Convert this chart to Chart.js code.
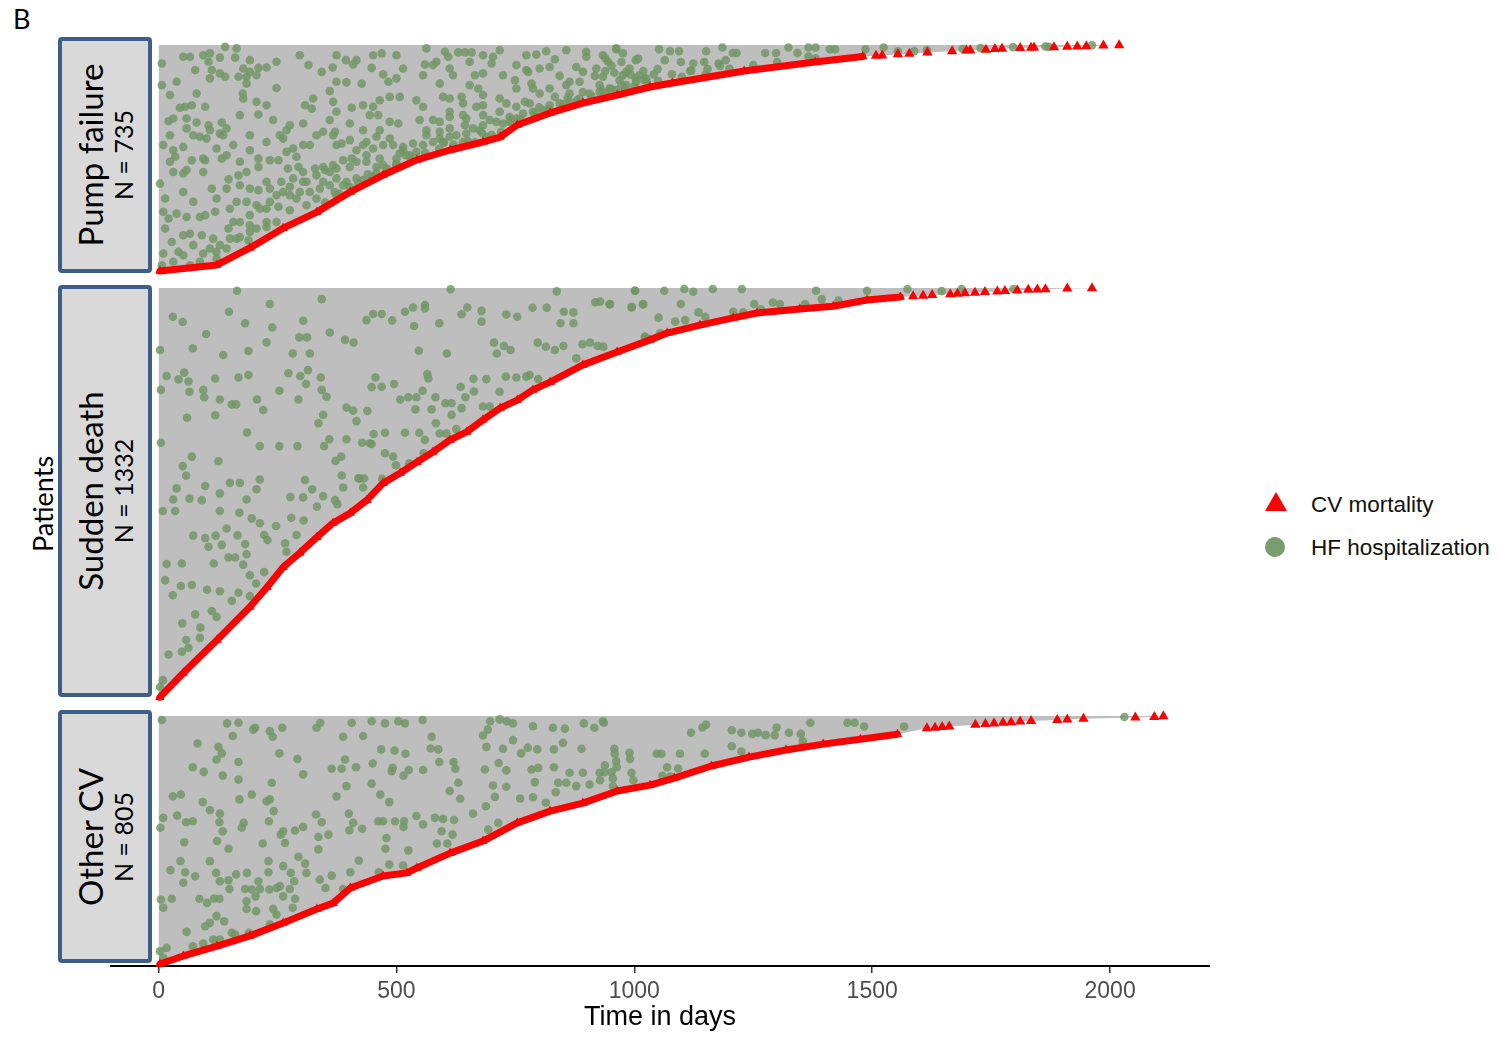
<!DOCTYPE html>
<html>
<head>
<meta charset="utf-8">
<script src="https://cdn.jsdelivr.net/npm/chart.js@4.4.1/dist/chart.umd.min.js"></script>
<style>
  body { margin: 0; background: #fff; width: 1499px; height: 1038px; position: relative; overflow: hidden; font-family: Lato, "Open Sans", sans-serif; }
  .panel { position: absolute; left: 110px; width: 1100px; }
  .strip { position: absolute; left: 58px; width: 94px; box-sizing: border-box; border: 4px solid #3d5d8b; border-radius: 4px; background: #d9d9d9; }
  .strip .lab { position: absolute; left: 50%; top: 50%; transform: translate(-50%, -50%) rotate(-90deg); text-align: center; white-space: nowrap; color: #000; }
  .strip .l1 { font-size: 33px; line-height: 35px; }
  .strip .l2 { font-size: 25px; line-height: 30px; }
  #tag { position: absolute; left: 13px; top: 2px; font-size: 27px; }
  #ylab { position: absolute; left: 42px; top: 504px; transform: translate(-50%, -50%) rotate(-90deg); font-size: 27px; white-space: nowrap; }
  .leg { position: absolute; left: 1311px; font-family: "Liberation Sans", Arial, sans-serif; font-size: 22.5px; color: #111; transform: translateY(-50%); white-space: nowrap; }
  #legTri { position: absolute; left: 1265px; top: 492px; width: 0; height: 0; border-left: 11px solid transparent; border-right: 11px solid transparent; border-bottom: 19px solid #ff0000; }
  #legDot { position: absolute; left: 1265px; top: 537px; width: 20px; height: 20px; border-radius: 50%; background: #7a9d70; }
</style>
</head>
<body>
<div id="tag">B</div>
<div id="ylab">Patients</div>
<div id="legTri"></div>
<div class="leg" id="leg1" style="top:505px"></div>
<div id="legDot"></div>
<div class="leg" id="leg2" style="top:548px"></div>

<script>
// ---- data: [day, patient index] ----
const xTicks = [0, 500, 1000, 1500, 2000];
const stripNames = ["Pump failure", "Sudden death", "Other CV"];
const panelN = [735, 1332, 805];
const legendLabels = ["CV mortality", "HF hospitalization"];

// CV death curve (dense part) and sparse tail triangles
const pumpDeaths = [[3,3],[123,23],[192,78],[262,142],[333,194],[403,259],[472,314],[543,363],[613,395],[682,421],[718,437],[754,476],[823,515],[892,547],[964,573],[1033,599],[1080,612],[1231,651],[1380,680],[1480,698]];
const pumpTail = [[1508,700],[1521,701],[1554,705],[1578,707],[1616,711],[1668,715],[1698,717],[1706,718],[1739,720],[1758,722],[1773,723],[1811,725],[1834,726],[1840,727],[1882,728],[1910,729],[1931,730],[1950,731],[1986,733],[2019,734]];

const suddenDeaths = [[3,7],[52,85],[123,192],[192,299],[228,363],[262,428],[297,474],[333,525],[367,571],[403,603],[438,645],[472,700],[508,733],[543,768],[577,801],[613,840],[648,866],[682,905],[718,943],[754,969],[787,1002],[823,1027],[892,1083],[964,1125],[1033,1164],[1069,1186],[1138,1212],[1208,1235],[1258,1251],[1348,1264],[1418,1273],[1489,1293],[1559,1303]];
const suddenTail = [[1586,1305],[1607,1307],[1626,1309],[1664,1312],[1679,1313],[1695,1315],[1716,1317],[1737,1319],[1763,1321],[1779,1322],[1805,1324],[1828,1326],[1847,1327],[1864,1328],[1910,1330],[1962,1331]];

const otherDeaths = [[3,2],[52,28],[123,60],[192,93],[262,135],[333,180],[367,199],[403,248],[472,287],[522,297],[543,313],[613,361],[682,400],[754,459],[823,497],[892,523],[964,562],[1033,581],[1084,604],[1162,643],[1241,672],[1319,695],[1397,714],[1475,730],[1553,746]];
const otherTail = [[1615,765],[1632,767],[1647,769],[1662,771],[1717,777],[1738,779],[1756,781],[1775,783],[1792,785],[1811,787],[1834,789],[1889,792],[1910,794],[1944,796],[2053,800],[2093,802],[2112,804]];

// HF hospitalizations
const pumpHosp = [[140,729],[7,675],[52,697],[66,697],[94,702],[108,708],[105,681],[129,694],[161,694],[77,654],[112,654],[178,659],[192,648],[210,661],[227,662],[315,670],[343,648],[366,662],[394,686],[409,672],[416,686],[451,702],[469,708],[448,661],[472,640],[563,724],[602,713],[609,697],[630,711],[644,711],[658,711],[703,697],[717,718],[700,675],[773,702],[794,704],[815,715],[833,689],[857,718],[899,713],[899,697],[934,702],[945,681],[962,724],[976,708],[1008,691],[990,659],[976,637],[952,668],[773,654],[801,659],[560,672],[577,670],[556,637],[920,659],
  [7,605],[108,627],[129,643],[140,632],[168,632],[185,632],[206,637],[248,596],[185,610],[177,578],[80,578],[178,562],[206,551],[227,540],[56,535],[70,540],[45,532],[98,535],[171,508],[210,510],[241,492],[308,540],[325,562],[322,529],[360,586],[374,616],[395,614],[427,610],[367,551],[374,519],[406,532],[430,540],[451,535],[465,556],[486,567],[507,567],[444,508],[462,508],[486,486],[504,481],[465,459],[483,616],[500,627],[591,610],[619,637],[654,605],[672,594],[665,637],[682,643],[724,637],[749,621],[777,648],[784,610],[822,594],[843,635],[864,616],[885,616],[917,635],[934,632],[969,621],[983,648],[1011,637],[542,556],[556,535],[598,567],[612,562],[637,567],[640,546],[668,535],[682,540],[731,546],[752,535],[770,551],[780,546],[801,578],[833,567],[864,578],[892,583],[927,605],[948,594],[717,519],[682,508],[647,497],[612,502],[577,492],[549,492],[563,459],[591,454],[612,465],[644,475],[675,459],[710,486],[738,502],[21,488],[80,484],[105,475],[133,484],[143,465],[108,459],[129,448],[87,438],[101,432],[269,459],[262,432],[276,475],[304,481],[360,492],[371,454],[402,481],[430,459],[385,416],[402,427],[437,421],[458,438],[486,432],[514,405],[535,416],[563,443],[591,432],[640,421],[665,420],[689,438],[591,486],
  [31,394],[35,373],[52,405],[70,362],[98,362],[133,367],[143,378],[171,357],[192,394],[210,367],[234,362],[252,362],[269,389],[290,373],[294,340],[272,335],[304,324],[329,335],[350,330],[367,346],[388,362],[406,367],[437,378],[465,367],[500,367],[507,384],[3,286],[14,238],[31,324],[52,319],[59,330],[94,324],[112,270],[147,300],[168,313],[185,324],[210,340],[227,292],[192,270],[210,265],[234,270],[258,292],[276,276],[304,292],[290,238],[318,259],[346,292],[374,303],[395,292],[416,303],[311,216],[332,238],[339,270],[360,281],[388,281],[10,195],[21,173],[38,189],[59,178],[87,178],[98,184],[119,195],[150,205],[164,227],[185,227],[206,216],[227,205],[252,211],[276,200],[14,141],[28,97],[52,119],[66,124],[91,119],[115,108],[147,141],[171,162],[192,151],[206,141],[227,146],[248,162],[10,60],[42,65],[73,87],[108,76],[129,87],[150,108],[171,113],[189,103],[7,22],[31,33],[52,54],[94,60],[122,65],
  [350,225],[380,253],[420,287],[450,308],[480,335],[500,348],[530,369],[560,386],[590,399],[620,413],[650,424],[700,444],[720,454],[760,495],[790,513],[820,528],[850,543],[880,557],[910,569],[940,579],[980,594],[1000,601],[1050,619],[1100,632],[1150,642],[1200,658],[1250,670],[1300,680],[370,259],[440,316],[520,378],[600,419],[680,450],[740,491],[800,533],[860,563],[930,591],[1020,623],[1120,652],[1180,667],
  [283,303],[297,259],[311,292],[332,313],[346,340],[360,324],[374,335],[402,340],[416,357],[437,357],[458,340],[472,346],[416,394],[430,411],[451,400],[472,411],[493,411],[514,394],[528,378],[542,389],[556,411],[577,421],[598,421],[612,438],[626,443],[647,448],[661,465],[682,475],[696,492],[724,481],[738,486],[752,497],[766,513],[787,519],[808,524],[822,540],[843,546],[864,551],[885,562],[906,578],[927,583],[962,589],[983,605],[1004,616],[1025,627],[213,205],[234,227],[248,249],[262,259],[276,249],[227,162],[192,130],[164,108],[143,76],[122,43],[87,33],[66,22],[192,184],[157,162],[318,411],[332,443],[346,454],[367,443],[374,411],[283,400],[304,411],[255,443],[227,421],[192,443],[157,411],[136,443],[122,400],[94,367],[73,443],[59,497],[24,443],[10,411],[24,357],[52,259],[73,227],[122,238],[143,270],[171,281],[374,249],[402,275],[430,298],[458,320],[500,350],[612,519],[640,508],[682,573],[717,562],[752,594],[787,594],[857,605],[892,648],[878,664],[822,664],[752,670],[682,702],[654,681],[612,659],[584,681],[514,659],[500,702],[374,702],[297,702],[248,681],[192,686],[164,724],[38,616],[24,573],[31,497],[59,465],
  [962,721],[939,692],[973,680],[1003,686],[1052,721],[1075,715],[1094,715],[1064,686],[1098,680],[1124,675],[1151,715],[1147,680],[1185,727],[1207,709],[1215,709],[1177,675],[1192,686],[939,651],[958,645],[992,640],[1019,651],[1049,657],[1079,640],[1117,651],[1154,657],[951,593],[973,605],[1003,628],[1026,616],[1041,640],[1275,709],[1298,709],[1324,727],[1343,709],[1366,727],[1381,727],[1411,721],[1422,721],[1366,698],[1381,692],[1486,721],[1524,727],[1554,715],[1588,715],[1615,719],[1690,722],[1728,725],[1796,728],[1864,730],[1962,734],[1871,729]];

const suddenHosp = [[165,1323],[343,1296],[234,1280],[148,1255],[30,1239],[51,1222],[304,1226],[182,1218],[239,1204],[100,1183],[3,1131],[72,1137],[227,1156],[296,1172],[312,1172],[360,1188],[392,1164],[410,1155],[189,1128],[136,1115],[282,1120],[318,1120],[54,1058],[17,1047],[42,1036],[63,1029],[119,1039],[168,1042],[189,1050],[273,1056],[298,1047],[314,1066],[341,1042],[5,1002],[65,996],[94,1002],[96,978],[129,971],[154,955],[163,955],[207,971],[220,937],[254,999],[294,971],[310,1021],[343,1002],[353,980],[60,912],[119,920],[186,864],[5,831],[213,820],[254,820],[292,820],[336,894],[346,921],[359,842],[348,820],[395,945],[409,935],[416,901],[439,934],[395,842],[428,831],[448,827],[372,772],[384,786],[70,786],[51,755],[58,724],[126,771],[38,683],[98,691],[150,701],[171,701],[213,712],[206,680],[308,710],[323,680],[385,725],[423,715],[432,715],[388,686],[430,686],[31,647],[65,650],[91,645],[129,667],[185,647],[277,655],[304,654],[346,658],[371,645],[376,632],[333,624],[9,610],[35,610],[129,610],[170,604],[196,586],[213,570],[247,561],[279,588],[305,579],[73,530],[98,522],[120,530],[143,553],[166,531],[182,503],[133,500],[105,494],[147,459],[161,459],[185,470],[178,436],[222,532],[229,516],[266,505],[269,478],[290,532],[17,438],[49,440],[116,440],[14,386],[47,367],[70,370],[102,355],[129,350],[168,345],[192,402],[205,375],[222,412],[30,337],[154,319],[192,334],[77,275],[112,286],[122,267],[50,246],[88,232],[87,199],[58,192],[21,145],[49,154],[63,167],[9,62],[3,40],
  [437,1228],[451,1248],[469,1248],[491,1227],[518,1255],[535,1269],[560,1277],[560,1266],[537,1209],[590,1218],[614,1328],[637,1247],[649,1269],[679,1258],[679,1223],[731,1246],[754,1239],[786,1268],[816,1268],[837,1321],[852,1255],[872,1253],[845,1218],[872,1218],[918,1286],[948,1279],[1001,1323],[994,1269],[1018,1279],[1022,1174],[705,1155],[726,1144],[740,1131],[711,1120],[797,1155],[814,1142],[833,1131],[851,1144],[891,1150],[907,1155],[923,1144],[547,1129],[606,1120],[456,1042],[448,1011],[469,1012],[495,1021],[508,971],[525,978],[542,978],[555,999],[565,1053],[567,1039],[582,978],[583,894],[603,959],[616,959],[637,943],[635,1012],[662,1038],[689,1037],[663,997],[645,978],[682,948],[696,948],[717,996],[730,1045],[752,1042],[773,1045],[798,1037],[780,1050],[878,1104],[540,939],[574,939],[616,921],[591,861],[605,861],[626,875],[518,863],[548,863],[560,840],[476,863],[493,786],[476,797],[499,758],[527,764],[557,797],[470,714],[452,859],[444,829],[420,716],
  [1002,1323],[1063,1323],[1105,1329],[1124,1320],[1165,1329],[1226,1329],[949,1280],[995,1271],[1019,1280],[1098,1280],[1051,1236],[1086,1223],[1107,1228],[1135,1253],[1149,1239],[1208,1255],[1229,1253],[1252,1280],[1266,1263],[1291,1285],[1306,1280],[1382,1323],[1359,1280],[1394,1296],[1429,1291],[1489,1323],[1574,1329],[1646,1322],[1688,1329],[1797,1329],[1054,1185],[1023,1174],[935,1142],[928,1288]];

const otherHosp = [[7,792],[144,781],[168,783],[199,761],[203,767],[234,756],[260,767],[240,738],[156,740],[82,716],[126,705],[133,684],[122,664],[168,656],[254,684],[72,639],[95,624],[135,612],[168,599],[238,589],[304,616],[292,666],[332,767],[340,783],[388,738],[406,783],[430,740],[448,788],[476,781],[504,788],[518,781],[555,792],[574,738],[572,700],[588,697],[468,697],[496,693],[519,683],[450,651],[492,637],[526,630],[556,630],[490,626],[515,612],[392,664],[415,639],[385,634],[364,634],[374,545],[395,578],[448,586],[466,551],[485,526],[590,656],[620,656],[624,634],[612,562],[630,589],[634,537],[682,742],[692,761],[697,788],[717,794],[732,788],[745,781],[787,772],[829,767],[854,764],[894,781],[916,767],[934,788],[745,727],[724,699],[689,705],[762,684],[776,702],[796,697],[831,697],[850,718],[889,699],[958,699],[990,686],[962,659],[686,632],[715,653],[731,629],[784,632],[798,637],[831,639],[864,621],[892,621],[927,621],[938,645],[952,623],[994,621],[703,580],[731,576],[707,543],[791,591],[840,589],[857,589],[878,578],[906,583],[955,578],[835,558],[787,542],[760,538],[814,524],
  [30,545],[47,551],[93,526],[10,475],[4,443],[39,483],[58,461],[72,464],[108,500],[129,489],[128,461],[135,432],[170,535],[196,551],[179,459],[175,443],[227,529],[234,535],[242,497],[232,464],[262,432],[287,434],[304,446],[331,486],[343,461],[266,394],[257,421],[219,392],[147,375],[123,400],[54,396],[46,335],[56,299],[25,306],[77,286],[108,335],[121,297],[129,270],[149,245],[163,292],[186,297],[147,273],[210,270],[231,299],[233,243],[255,254],[278,297],[285,270],[311,297],[276,245],[294,349],[308,327],[231,335],[262,319],[336,413],[336,373],[357,421],[339,275],[364,288],[351,248],[388,245],[401,435],[428,440],[400,489],[409,459],[421,337],[462,464],[472,464],[497,464],[516,464],[479,410],[477,375],[525,370],[515,446],[542,481],[556,454],[581,475],[598,472],[621,468],[595,432],[585,392],[618,421],[607,392],[661,489],[688,513],[714,459],[693,437],[514,321],[485,324],[463,299],[403,299],
  [5,211],[10,184],[28,213],[52,265],[86,213],[102,200],[117,214],[128,213],[182,245],[196,243],[213,245],[204,221],[185,205],[185,180],[205,173],[241,181],[248,162],[262,221],[282,184],[287,213],[248,248],[122,157],[108,135],[98,124],[59,106],[138,140],[154,103],[161,97],[234,130],[190,103],[115,81],[129,81],[72,59],[94,68],[17,54],[3,43],[10,22],
  [936,783],[1119,751],[1143,768],[1151,777],[1205,759],[1225,751],[1248,747],[1260,751],[1276,743],[1299,768],[1295,743],[1325,751],[1350,747],[1370,783],[1354,723],[1448,783],[1463,783],[1483,771],[1567,771],[2030,802],[1205,707],[1225,690],[959,683],[991,666],[1047,683],[1057,683],[1096,683],[1148,683],[937,623],[963,639],[1069,639],[1092,635],[1059,611],[1076,609],[998,597],[955,603],[928,597],[1354,707]];

// ---- layout / style ----
const RED = "#ff0000";
const GREEN = "rgba(112,150,100,0.82)";
const GRAY = "#bebebe";
const PX_PER_PATIENT = 0.3088;
const DAY_MIN = -102, DAY_MAX = 2210;

const panels = [
  { name: stripNames[0], n: panelN[0], deaths: pumpDeaths, tail: pumpTail, hosp: pumpHosp, grayTop: 45, strip: [37, 273], axis: false },
  { name: stripNames[1], n: panelN[1], deaths: suddenDeaths, tail: suddenTail, hosp: suddenHosp, grayTop: 288, strip: [285, 697], axis: false },
  { name: stripNames[2], n: panelN[2], deaths: otherDeaths, tail: otherTail, hosp: otherHosp, grayTop: 716, strip: [710, 963], axis: true }
];

document.getElementById("leg1").textContent = legendLabels[0];
document.getElementById("leg2").textContent = legendLabels[1];

const xy = arr => arr.map(d => ({ x: d[0], y: d[1] }));

function makePanel(p) {
  const padTop = 10;
  const padBot = p.axis ? 1.4 : 10;
  const axisH = p.axis ? 73 : 0;
  const areaH = p.n * PX_PER_PATIENT + padTop + padBot;

  // strip label box
  const strip = document.createElement("div");
  strip.className = "strip";
  strip.style.top = p.strip[0] + "px";
  strip.style.height = (p.strip[1] - p.strip[0]) + "px";
  strip.innerHTML = '<div class="lab"><div class="l1"></div><div class="l2"></div></div>';
  strip.querySelector(".l1").textContent = p.name;
  strip.querySelector(".l2").textContent = "N = " + p.n;
  document.body.appendChild(strip);

  const box = document.createElement("div");
  box.className = "panel";
  box.style.top = (p.grayTop - padTop) + "px";
  box.style.height = (areaH + axisH) + "px";
  const cv = document.createElement("canvas");
  box.appendChild(cv);
  document.body.appendChild(box);

  const fillCurve = [[0, 0]].concat(p.deaths, p.tail);

  new Chart(cv.getContext("2d"), {
    type: "line",
    data: {
      datasets: [
        { data: xy(p.deaths), showLine: true, borderColor: RED, borderWidth: 7,
          borderJoinStyle: "round", borderCapStyle: "round",
          pointStyle: "triangle", pointRadius: 5.5, pointBackgroundColor: RED,
          pointBorderWidth: 0, fill: false, clip: false },
        { data: xy(p.tail), showLine: false, pointStyle: "triangle", pointRadius: 6,
          pointBackgroundColor: RED, pointBorderWidth: 0, fill: false, clip: false },
        { data: xy(p.hosp), showLine: false, pointStyle: "circle", pointRadius: 4.3,
          pointBackgroundColor: GREEN, pointBorderWidth: 0, fill: false, clip: false },
        { data: xy(fillCurve), showLine: true, borderWidth: 0, pointRadius: 0,
          backgroundColor: GRAY, fill: { value: p.n } }
      ]
    },
    options: {
      responsive: true,
      maintainAspectRatio: false,
      animation: false,
      devicePixelRatio: 1,
      layout: { padding: 0, autoPadding: false },
      events: [],
      plugins: { legend: { display: false }, tooltip: { enabled: false } },
      scales: {
        x: {
          type: "linear", min: DAY_MIN, max: DAY_MAX, display: p.axis,
          afterBuildTicks: s => { s.ticks = xTicks.map(v => ({ value: v })); },
          afterFit: s => { s.height = axisH; },
          grid: { display: true, drawOnChartArea: false, drawTicks: true, tickLength: 7, color: "#333", lineWidth: 1.5 },
          border: { display: true, color: "#000", width: 2 },
          ticks: { color: "#4d4d4d", padding: 5, maxRotation: 0, autoSkip: false,
                   font: { family: "'Liberation Sans Narrow', 'Liberation Sans', Arial", size: 23 },
                   callback: v => String(v) },
          title: { display: true, text: "Time in days", color: "#000",
                   font: { family: "'Liberation Sans Narrow', 'Liberation Sans', Arial", size: 27 },
                   padding: { top: 0, bottom: 5 } }
        },
        y: {
          type: "linear", display: false,
          min: -padBot / PX_PER_PATIENT,
          max: p.n + padTop / PX_PER_PATIENT
        }
      }
    }
  });
}

panels.forEach(makePanel);
</script>
</body>
</html>
